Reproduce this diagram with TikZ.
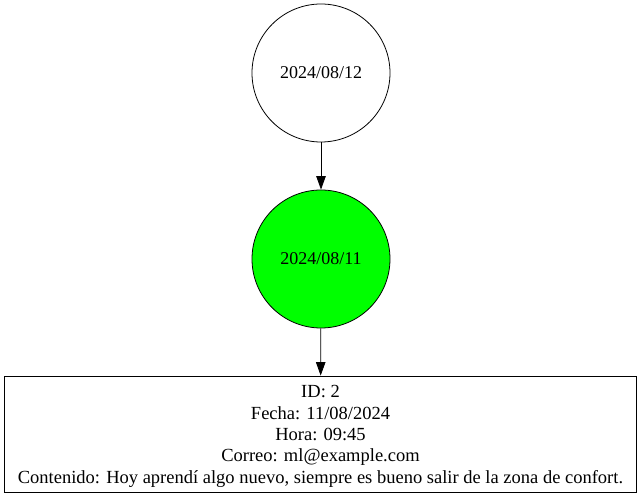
\documentclass[tikz,border=0pt]{standalone}
\usepackage{fontspec}
\setmainfont{Liberation Serif}
\usetikzlibrary{arrows.meta}
\tikzset{
    fecha/.style={draw,circle,minimum size=138pt,inner sep=0pt,line width=0.8pt,font=\fontsize{18}{21}\selectfont},
    actual/.style={fecha,fill=green},
    entrada/.style={draw,rectangle,minimum width=632pt,minimum height=116pt,inner sep=0pt,line width=0.8pt,align=center,font=\fontsize{18.5}{21.3}\selectfont},
    flecha/.style={-{Triangle[length=13.5pt,width=9.5pt]},line width=0.8pt}
}
\begin{document}
\begin{tikzpicture}[x=1pt,y=1pt]
        %% Bounds
        \useasboundingbox (0,0) rectangle (642,497);
        %% Nodes
        \node[fecha]   (d12)  at (321,424) {2024/08/12};
        \node[actual]  (d11)  at (321,238) {2024/08/11};
        \node[entrada] (post) at (320.5,63)  {\rule{0pt}{17pt}ID: 2\\Fecha: 11/08/2024\\Hora: 09:45\\Correo: ml@example.com\\Contenido: Hoy aprendí algo nuevo, siempre es bueno salir de la zona de confort.};
        %% Edges
        \draw[flecha] (d12) -- (d11);
        \draw[flecha] (d11) -- (post);
    \end{tikzpicture}
\end{document}
